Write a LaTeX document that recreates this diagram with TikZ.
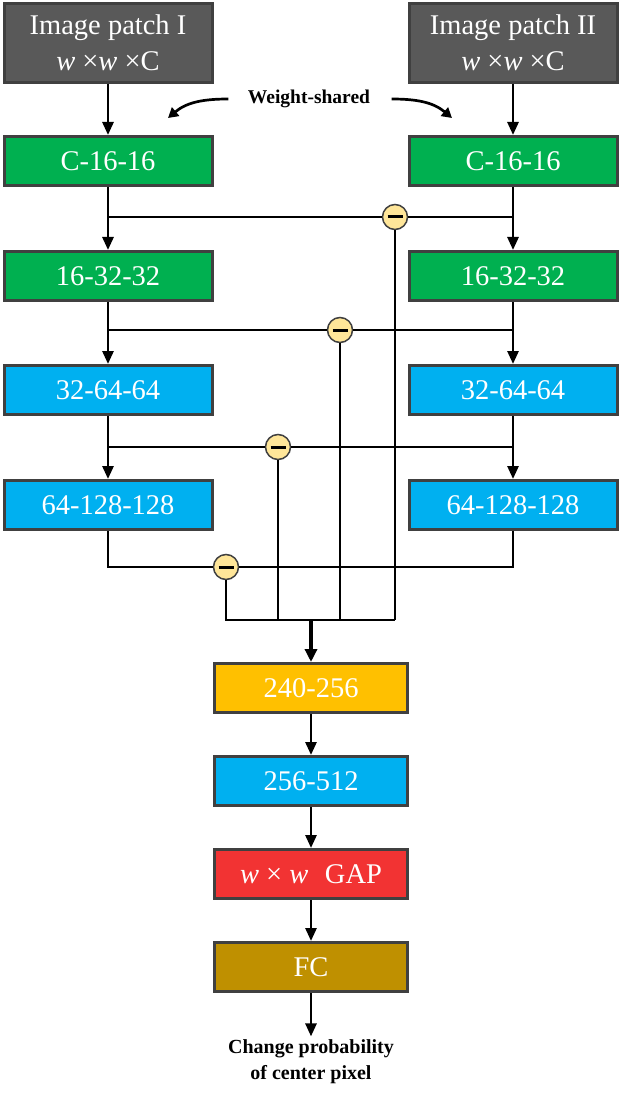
\documentclass[tikz,border=0pt]{standalone}
\usepackage{fontspec}
\setmainfont{Liberation Serif}
\usetikzlibrary{arrows.meta,calc}
\definecolor{boxgray}{HTML}{595959}
\definecolor{boxgreen}{HTML}{00B050}
\definecolor{boxblue}{HTML}{00B0F0}
\definecolor{boxorange}{HTML}{FFC000}
\definecolor{boxred}{HTML}{F23333}
\definecolor{boxgold}{HTML}{BF9000}
\definecolor{edge}{HTML}{404040}
\definecolor{minusfill}{HTML}{FFE699}
\begin{document}
\begin{tikzpicture}[x=1pt,y=-1pt,
  blk/.style={draw=edge,line width=3pt,text=white,minimum width=208pt,minimum height=49pt,inner sep=0pt,align=center,font=\fontsize{28.5}{36}\selectfont},
  mblk/.style={blk,minimum width=193pt},
  conn/.style={line width=2.7pt,black},
  arr/.style={conn,-{Triangle[width=11pt,length=13pt]}},
  minus/.style={circle,draw=edge,line width=1.5pt,fill=minusfill,minimum size=25pt,inner sep=0pt},
  lbl/.style={font=\bfseries\fontsize{19.5}{24}\selectfont,align=center}
]
\useasboundingbox (0,0) rectangle (620,1099);
% boxes
\node[blk,fill=boxgray,minimum height=79pt] (p1) at (108,43) {Image patch I\\\textit{w} ×\textit{w} ×C};
\node[blk,fill=boxgray,minimum height=79pt] (p2) at (513,43) {Image patch II\\\textit{w} ×\textit{w} ×C};
\node[blk,fill=boxgreen] (c1L) at (108,161) {C-16-16};
\node[blk,fill=boxgreen] (c1R) at (513,161) {C-16-16};
\node[blk,fill=boxgreen] (c2L) at (108,276) {16-32-32};
\node[blk,fill=boxgreen] (c2R) at (513,276) {16-32-32};
\node[blk,fill=boxblue] (c3L) at (108,390) {32-64-64};
\node[blk,fill=boxblue] (c3R) at (513,390) {32-64-64};
\node[blk,fill=boxblue] (c4L) at (108,505) {64-128-128};
\node[blk,fill=boxblue] (c4R) at (513,505) {64-128-128};
\node[mblk,fill=boxorange] (m1) at (311,688) {240-256};
\node[mblk,fill=boxblue] (m2) at (311,781) {256-512};
\node[mblk,fill=boxred] (m3) at (311,874) {\textit{w} × \textit{w}\,\, GAP};
\node[mblk,fill=boxgold] (m4) at (311,967) {FC};
\node[lbl,font=\bfseries\fontsize{20}{26}\selectfont] (out) at (311,1062) {Change probability\\of center pixel};
\node[lbl] (ws) at (309,99) {Weight-shared};
\coordinate (wl) at (168,118);
\coordinate (wr) at (452,118);
% minus circles
\node[minus] (s1) at (395,217) {\rule{15pt}{3pt}};
\node[minus] (s2) at (340,330) {\rule{15pt}{3pt}};
\node[minus] (s3) at (278,447) {\rule{15pt}{3pt}};
\node[minus] (s4) at (226,567) {\rule{15pt}{3pt}};
\coordinate (bot) at (311,620);
% weight shared arrows
\draw[conn,-{Triangle[width=11pt,length=10pt]}] ([xshift=-16pt]ws.west) to[out=180,in=40] (wl);
\draw[conn,-{Triangle[width=11pt,length=10pt]}] ([xshift=18pt]ws.east) to[out=0,in=140] (wr);
% vertical arrows in branches
\draw[arr] (p1) -- (c1L);
\draw[arr] (p2) -- (c1R);
\draw[arr] (c1L) -- (c2L);
\draw[arr] (c1R) -- (c2R);
\draw[arr] (c2L) -- (c3L);
\draw[arr] (c2R) -- (c3R);
\draw[arr] (c3L) -- (c4L);
\draw[arr] (c3R) -- (c4R);
% difference lines
\draw[conn] (c1L.south |- s1) -- (s1.west);
\draw[conn] (s1.east) -- (c1R.south |- s1);
\draw[conn] (c2L.south |- s2) -- (s2.west);
\draw[conn] (s2.east) -- (c2R.south |- s2);
\draw[conn] (c3L.south |- s3) -- (s3.west);
\draw[conn] (s3.east) -- (c3R.south |- s3);
\draw[conn] (c4L.south) |- (s4.west);
\draw[conn] (c4R.south) |- (s4.east);
% down to merge
\draw[conn] (s1.south) -- (s1 |- bot);
\draw[conn] (s2.south) -- (s2 |- bot);
\draw[conn] (s3.south) -- (s3 |- bot);
\draw[conn] (s4.south) |- (bot) -- (s1 |- bot);
\draw[line width=3.5pt,-{Triangle[width=12pt,length=13pt]}] (bot) -- (m1.north);
\draw[arr] (m1) -- (m2);
\draw[arr] (m2) -- (m3);
\draw[arr] (m3) -- (m4);
\draw[arr] (m4) -- (out.north);
\end{tikzpicture}
\end{document}
